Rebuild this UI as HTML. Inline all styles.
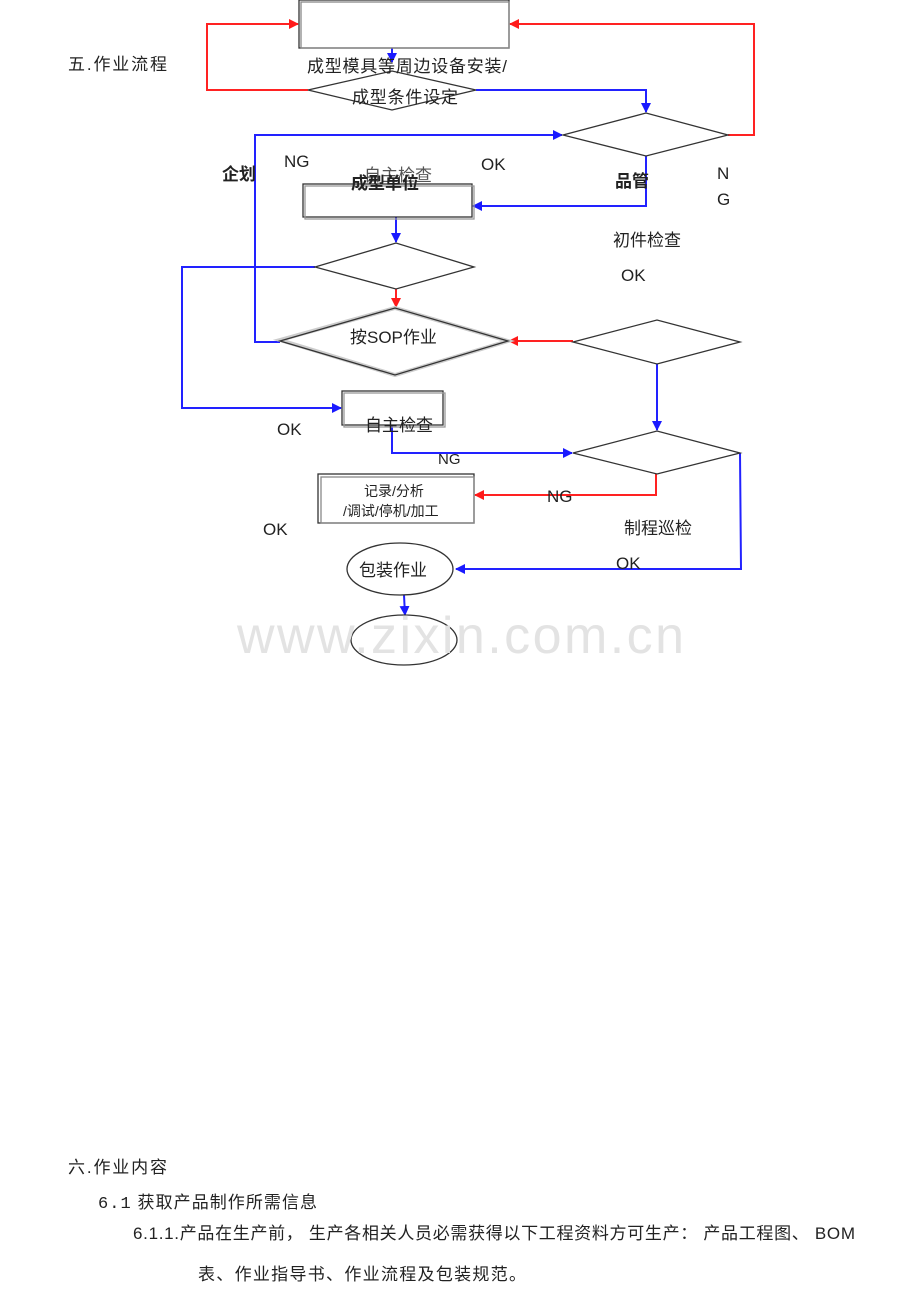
<!DOCTYPE html>
<html><head><meta charset="utf-8"><style>
html,body{margin:0;padding:0;background:#fff;width:920px;height:1302px;overflow:hidden}
svg{display:block}
text{font-family:"Liberation Sans","Noto Sans CJK SC",sans-serif;fill:#222}
</style></head><body>
<svg width="920" height="1302" viewBox="0 0 920 1302" xmlns="http://www.w3.org/2000/svg">
<defs>
<marker id="ab" markerWidth="10" markerHeight="10" refX="9" refY="5" orient="auto" markerUnits="userSpaceOnUse"><path d="M0,0 L10,5 L0,10 z" fill="#1a1aff"/></marker>
<marker id="ar" markerWidth="10" markerHeight="10" refX="9" refY="5" orient="auto" markerUnits="userSpaceOnUse"><path d="M0,0 L10,5 L0,10 z" fill="#ff1a1a"/></marker>
</defs>
<g fill="none" stroke-width="2">
<polyline points="308,90 207,90 207,24 298,24" stroke="#f22" marker-end="url(#ar)"/>
<polyline points="728,135 754,135 754,24 510,24" stroke="#f22" marker-end="url(#ar)"/>
<polyline points="396,289 396,307" stroke="#f22" marker-end="url(#ar)"/>
<polyline points="573,341 509,341" stroke="#f22" marker-end="url(#ar)"/>
<polyline points="656,474 656,495 475,495" stroke="#f22" marker-end="url(#ar)"/>
<polyline points="392,48 392,62" stroke="#22f" marker-end="url(#ab)"/>
<polyline points="476,90 646,90 646,112" stroke="#22f" marker-end="url(#ab)"/>
<polyline points="646,156 646,206 473,206" stroke="#22f" marker-end="url(#ab)"/>
<polyline points="396,217 396,242" stroke="#22f" marker-end="url(#ab)"/>
<polyline points="280,342 255,342 255,135 562,135" stroke="#22f" marker-end="url(#ab)"/>
<polyline points="315,267 182,267 182,408 341,408" stroke="#22f" marker-end="url(#ab)"/>
<polyline points="657,364 657,430" stroke="#22f" marker-end="url(#ab)"/>
<polyline points="392,425 392,453 572,453" stroke="#22f" marker-end="url(#ab)"/>
<polyline points="740,453 741,569 456,569" stroke="#22f" marker-end="url(#ab)"/>
<polyline points="404,595 405,615" stroke="#22f" marker-end="url(#ab)"/>
</g>
<g fill="none" stroke="#333" stroke-width="1.3">
<rect x="299" y="0" width="210" height="48"/>
<rect x="301" y="2" width="208" height="46" stroke="#888"/>
<polygon points="308,90 392,71 476,90 392,110"/>
<polygon points="563,135 646,113 728,135 646,156"/>
<rect x="303" y="184" width="169" height="33"/>
<rect x="305" y="186" width="169" height="33" stroke="#999"/>
<polygon points="315,267 396,243 474,267 396,289"/>
<polygon points="280,340 395,308 508,341 395,375" stroke="#ccc" stroke-width="4"/>
<polygon points="280,341 395,308 508,341 395,375"/>
<polygon points="573,342 657,320 740,342 657,364"/>
<rect x="342" y="391" width="101" height="34"/>
<rect x="344" y="393" width="101" height="34" stroke="#999"/>
<polygon points="573,453 657,431 740,453 657,474"/>
<rect x="318" y="474" width="156" height="49"/>
<rect x="321" y="477" width="153" height="46" stroke="#888"/>
<ellipse cx="400" cy="569" rx="53" ry="26"/>
<ellipse cx="404" cy="640" rx="53" ry="25"/>
</g>
<text x="237" y="653" font-size="52" style="fill:#e3e3e3" textLength="447">www.zixin.com.cn</text>
<g font-size="17">
<text x="68" y="70" textLength="99">五.作业流程</text>
<text x="307" y="72" textLength="200">成型模具等周边设备安装/</text>
<text x="352" y="103" textLength="106">成型条件设定</text>
<text x="222" y="180" font-weight="bold">企划</text>
<text x="284" y="167">NG</text>
<text x="481" y="170">OK</text>
<text x="364" y="181" style="fill:#555">自主检查</text>
<text x="351" y="189" font-weight="bold">成型单位</text>
<text x="615" y="187" font-weight="bold">品管</text>
<text x="717" y="179">N</text>
<text x="717" y="205">G</text>
<text x="613" y="246">初件检查</text>
<text x="621" y="281">OK</text>
<text x="350" y="343">按SOP作业</text>
<text x="365" y="431">自主检查</text>
<text x="277" y="435">OK</text>
<text x="438" y="464" font-size="15">NG</text>
<text x="547" y="502">NG</text>
<text x="263" y="535">OK</text>
<text x="624" y="534">制程巡检</text>
<text x="616" y="569">OK</text>
<text x="359" y="576">包装作业</text>
<text x="364" y="496" font-size="14">记录/分析</text>
<text x="343" y="516" font-size="14">/调试/停机/加工</text>
<text x="68" y="1173" textLength="99">六.作业内容</text>
<text x="98" y="1208" textLength="219"><tspan font-family="Liberation Mono,monospace">6.1</tspan> 获取产品制作所需信息</text>
<text x="133" y="1239" textLength="722">6.1.1.产品在生产前， 生产各相关人员必需获得以下工程资料方可生产： 产品工程图、 BOM</text>
<text x="198" y="1280" textLength="328">表、作业指导书、作业流程及包装规范。</text>
</g>
</svg>
</body></html>
